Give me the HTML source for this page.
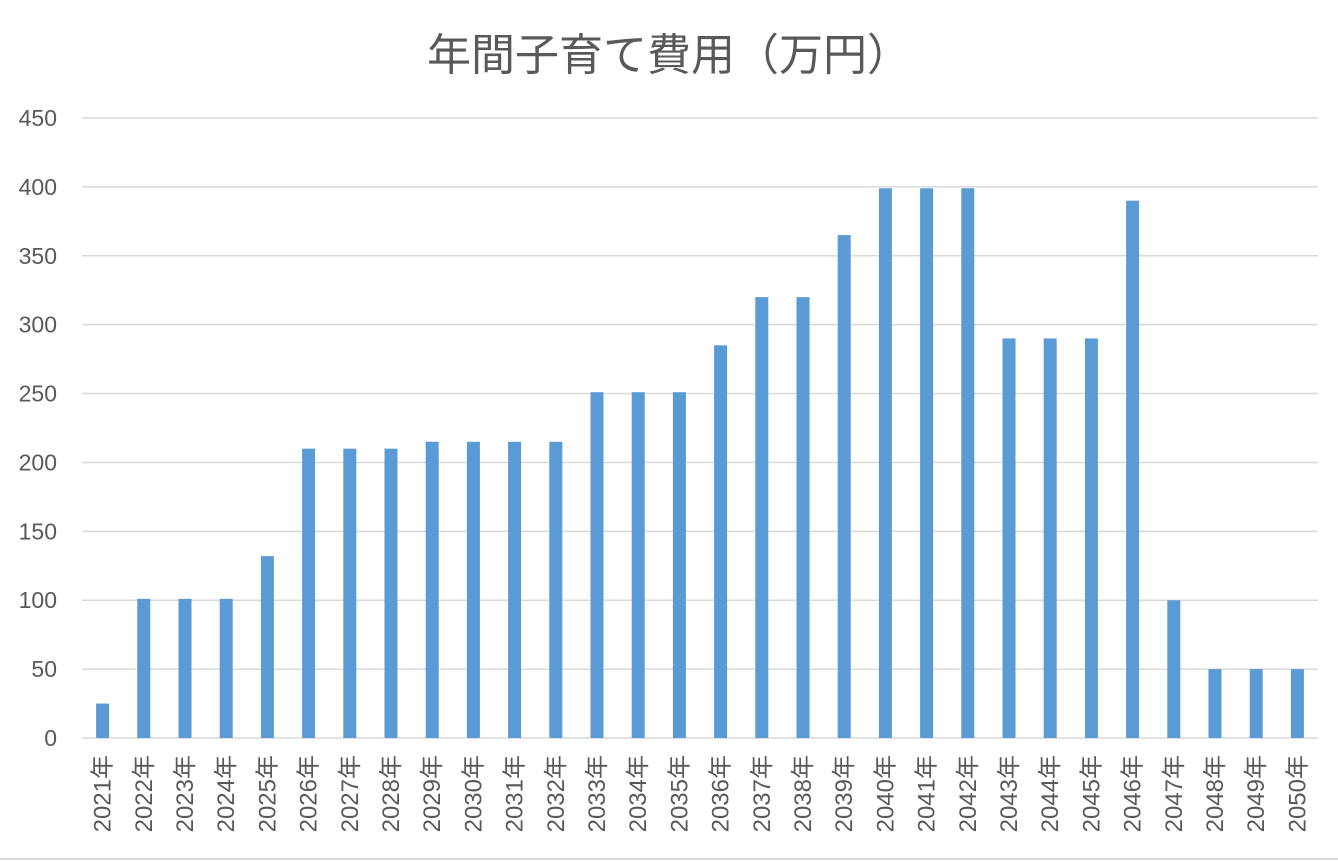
<!DOCTYPE html>
<html><head><meta charset="utf-8"><style>
body{margin:0;background:#fff;}
svg{display:block;font-family:"Liberation Sans","Noto Sans CJK JP",sans-serif;}
</style></head><body>
<svg id="c" width="1338" height="861">
<rect x="0" y="0" width="1338" height="861" fill="#fff"/>
<line x1="0" y1="859" x2="1338" y2="859" stroke="#d9d9d9" stroke-width="2"/>
<text x="669" y="70" text-anchor="middle" font-size="44" fill="#595959">年間子育て費用（万円）</text>
<g id="grid"></g><g id="bars"></g><g id="xl"></g><g id="yl"></g>
</svg>
<script>
const categories=[];for(let y=2021;y<=2050;y++)categories.push(y+"年");
const values=[25,101,101,101,132,210,210,210,215,215,215,215,251,251,251,285,320,320,365,399,399,399,290,290,290,390,100,50,50,50];
const yTicks=[0,50,100,150,200,250,300,350,400,450];
const left=82,right=1318,y0=738,yTop=118,yMax=450;
const ys=v=>y0-(v/yMax)*(y0-yTop);
const bw=(right-left)/categories.length;
const xs=i=>left+bw*(i+0.5);
const NS="http://www.w3.org/2000/svg";
const g=document.getElementById('grid'),b=document.getElementById('bars'),xl=document.getElementById('xl'),yl=document.getElementById('yl');
yTicks.forEach(t=>{
 const l=document.createElementNS(NS,'line');
 l.setAttribute('x1',left);l.setAttribute('x2',right);l.setAttribute('y1',ys(t));l.setAttribute('y2',ys(t));
 l.setAttribute('stroke','#d9d9d9');l.setAttribute('stroke-width','1.5');
 
 
 g.appendChild(l);
 const tx=document.createElementNS(NS,'text');
 tx.setAttribute('x',57);tx.setAttribute('y',ys(t)+8);tx.setAttribute('text-anchor','end');
 tx.setAttribute('font-size','23');tx.setAttribute('fill','#595959');tx.textContent=t;
 
 
 yl.appendChild(tx);
});
values.forEach((v,i)=>{
 const r=document.createElementNS(NS,'rect');
 r.setAttribute('x',xs(i)-6.5);r.setAttribute('width',13);
 r.setAttribute('y',ys(v));r.setAttribute('height',y0-ys(v));
 r.setAttribute('fill','#5b9bd5');
 
 
 b.appendChild(r);
 const tx=document.createElementNS(NS,'text');
 tx.setAttribute('transform','translate('+(xs(i)+8)+',755) rotate(-90)');
 tx.setAttribute('text-anchor','end');tx.setAttribute('font-size','24');tx.setAttribute('fill','#595959');
 tx.textContent=categories[i];
 
 
 xl.appendChild(tx);
});
</script>
</body></html>
